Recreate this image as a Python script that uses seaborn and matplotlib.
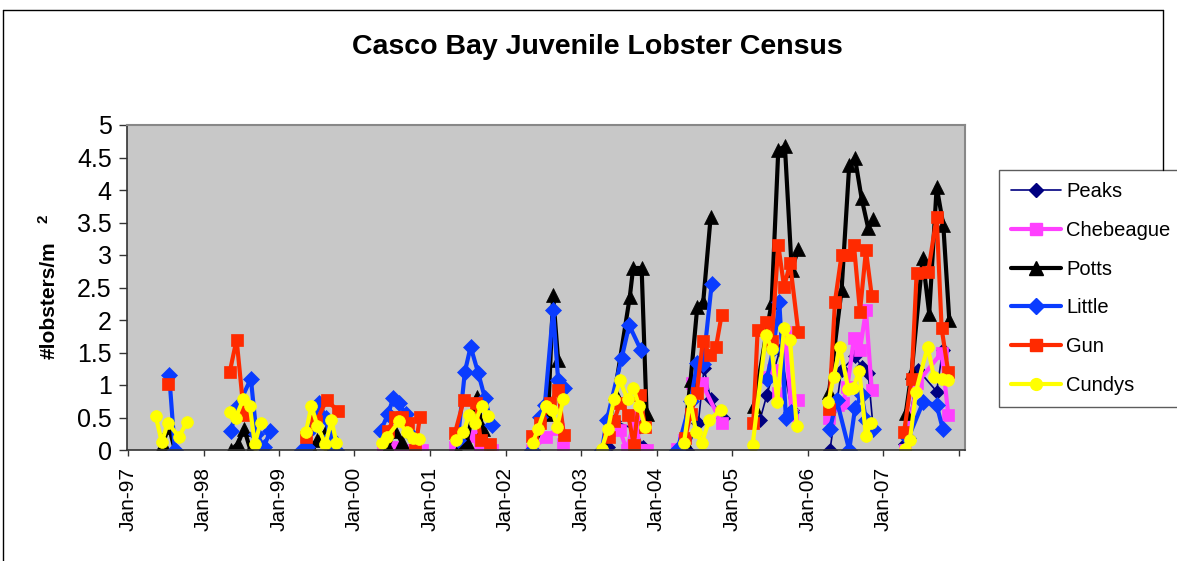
import pandas as pd
import matplotlib
matplotlib.use('Agg')
import matplotlib.pyplot as plt
import matplotlib.dates as mdates
from matplotlib.lines import Line2D
from matplotlib.ticker import MultipleLocator, FuncFormatter
import seaborn as sns

# lobster counts per m2 (one season per year)
peaks_dates = ['2003-05-12', '2003-06-09', '2003-09-23', '2003-10-27',
               '2004-04-20', '2004-05-26', '2004-07-21', '2004-08-18', '2004-09-19', '2004-11-19',
               '2005-05-15', '2005-06-18', '2005-08-20', '2005-10-16',
               '2006-04-19', '2006-06-14', '2006-08-18', '2006-09-19', '2006-10-21', '2006-11-14',
               '2007-04-17', '2007-06-20', '2007-09-17', '2007-10-16']
peaks_vals = [0.05, 0.45, 0.31, 0.05,
              0.03, 0.0, 0.41, 1.26, 0.78, 0.49,
              0.46, 0.85, 1.54, 0.62,
              0.0, 1.23, 1.44, 1.28, 1.18, 0.33,
              0.1, 1.23, 0.9, 1.54]

chebeague_dates = ['2000-05-16', '2000-07-23', '2000-09-06', '2000-11-21',
                   '2001-05-01', '2001-07-21', '2001-08-30', '2001-10-26',
                   '2002-05-08', '2002-07-15', '2002-09-12', '2002-10-07',
                   '2003-07-08', '2003-08-09', '2003-09-23', '2003-10-12', '2003-11-14',
                   '2004-04-11', '2004-05-13', '2004-06-19', '2004-08-07', '2004-11-11',
                   '2005-06-09', '2005-07-16', '2005-08-12', '2005-09-13', '2005-10-16', '2005-11-17',
                   '2006-04-15', '2006-05-29', '2006-06-19', '2006-07-12', '2006-08-13', '2006-09-11',
                   '2006-10-10', '2006-11-07',
                   '2007-04-17', '2007-06-15', '2007-10-11', '2007-11-12']
chebeague_vals = [0.0, 0.05, 0.0, 0.0,
                  0.05, 0.22, 0.0, 0.0,
                  0.0, 0.2, 0.33, 0.1,
                  0.31, 0.0, 0.51, 0.0, 0.0,
                  0.01, 0.15, 1.03, 1.03, 0.41,
                  1.13, 1.23, 0.87, 1.82, 0.54, 0.77,
                  0.49, 0.69, 0.72, 0.97, 1.72, 1.54,
                  2.15, 0.92,
                  0.0, 1.03, 1.5, 0.54]

potts_dates = ['1997-06-18', '1997-07-17', '1997-08-16',
               '1998-05-16', '1998-06-17', '1998-07-16', '1998-08-16',
               '1999-06-05', '1999-07-04', '1999-08-17', '1999-09-11',
               '2000-06-11', '2000-07-15', '2000-08-16',
               '2001-05-17', '2001-06-27', '2001-08-14', '2001-09-12', '2001-10-17',
               '2002-05-07', '2002-07-26', '2002-08-19', '2002-09-12',
               '2003-04-26', '2003-06-13', '2003-08-25', '2003-09-10', '2003-10-21', '2003-11-14',
               '2004-04-14', '2004-05-13', '2004-06-14', '2004-07-16', '2004-08-14', '2004-09-19',
               '2005-04-16', '2005-07-11', '2005-08-12', '2005-09-13', '2005-10-16', '2005-11-17',
               '2006-04-15', '2006-06-14', '2006-07-21', '2006-08-18', '2006-09-19', '2006-10-21',
               '2006-11-14',
               '2007-04-21', '2007-05-19', '2007-07-11', '2007-08-12', '2007-09-17', '2007-10-19',
               '2007-11-17']
potts_vals = [0.1, 0.36, 0.0,
              0.0, 0.1, 0.33, 0.0,
              0.05, 0.15, 0.3, 0.1,
              0.05, 0.3, 0.13,
              0.0, 0.13, 0.82, 0.32, 0.0,
              0.0, 0.56, 2.38, 1.38,
              0.0, 0.88, 2.36, 2.8, 2.8, 0.56,
              0.0, 0.15, 1.08, 2.2, 2.28, 3.59,
              0.67, 2.27, 4.62, 4.67, 2.77, 3.1,
              0.9, 2.46, 4.38, 4.49, 3.87, 3.41,
              3.56,
              0.57, 1.2, 2.95, 2.1, 4.05, 3.46,
              2.0]

little_dates = ['1997-07-19', '1997-08-15',
                '1998-05-13', '1998-06-17', '1998-08-18', '1998-09-14', '1998-10-20', '1998-11-21',
                '1999-04-20', '1999-05-15', '1999-06-13', '1999-07-14', '1999-08-15', '1999-09-04',
                '1999-10-06',
                '2000-05-08', '2000-06-11', '2000-07-07', '2000-08-03', '2000-09-06', '2000-10-10',
                '2001-05-15', '2001-06-18', '2001-07-16', '2001-08-22', '2001-09-23', '2001-10-26',
                '2002-05-08', '2002-06-16', '2002-07-10', '2002-08-19', '2002-09-12', '2002-10-10',
                '2003-04-12', '2003-05-06', '2003-07-16', '2003-08-22', '2003-10-17',
                '2004-04-11', '2004-06-14', '2004-07-16', '2004-08-14', '2004-09-24',
                '2005-06-18', '2005-07-19', '2005-08-17', '2005-09-18', '2005-10-11',
                '2006-04-19', '2006-05-21', '2006-07-21', '2006-08-18', '2006-09-19', '2006-10-10',
                '2006-11-11',
                '2007-05-02', '2007-07-14', '2007-09-17', '2007-10-16']
little_vals = [1.16, 0.0,
               0.3, 0.67, 1.1, 0.25, 0.05, 0.3,
               0.0, 0.05, 0.35, 0.72, 0.5, 0.2,
               0.0,
               0.3, 0.55, 0.8, 0.72, 0.55, 0.2,
               0.15, 1.2, 1.59, 1.18, 0.8, 0.38,
               0.0, 0.51, 0.7, 2.15, 1.08, 0.95,
               0.0, 0.46, 1.41, 1.92, 1.54,
               0.0, 0.75, 1.34, 1.33, 2.56,
               1.1, 1.56, 2.27, 0.49, 0.59,
               0.32, 0.77, 0.0, 0.64, 0.85, 0.46,
               0.33,
               0.18, 0.74, 0.69, 0.33]

gun_dates = ['1997-07-13',
             '1998-05-08', '1998-06-10', '1998-07-16',
             '1999-05-14', '1999-07-01', '1999-08-19', '1999-10-14',
             '2000-06-11', '2000-07-15', '2000-08-16', '2000-09-17', '2000-10-20', '2000-11-13',
             '2001-05-01', '2001-06-13', '2001-08-11', '2001-09-02', '2001-10-17',
             '2002-05-07', '2002-06-16', '2002-08-03', '2002-09-12', '2002-10-10',
             '2003-05-17', '2003-06-09', '2003-07-08', '2003-08-17', '2003-09-13', '2003-10-12',
             '2003-11-06',
             '2004-05-18', '2004-06-14', '2004-07-13', '2004-08-12', '2004-09-16', '2004-10-15',
             '2004-11-11',
             '2005-04-13', '2005-05-04', '2005-06-13', '2005-07-11', '2005-08-12', '2005-09-09',
             '2005-10-08', '2005-11-17',
             '2006-04-15', '2006-05-13', '2006-06-14', '2006-07-16', '2006-08-13', '2006-09-11',
             '2006-10-10', '2006-11-07',
             '2007-04-12', '2007-05-19', '2007-06-12', '2007-08-07', '2007-09-17', '2007-10-11',
             '2007-11-12']
gun_vals = [1.01,
            1.2, 1.7, 0.54,
            0.2, 0.44, 0.77, 0.6,
            0.3, 0.51, 0.51, 0.41, 0.0, 0.51,
            0.26, 0.77, 0.72, 0.16, 0.1,
            0.21, 0.41, 0.72, 0.92, 0.23,
            0.2, 0.44, 0.72, 0.54, 0.08, 0.85,
            0.36,
            0.18, 0.56, 0.87, 1.67, 1.46, 1.59,
            2.08,
            0.42, 1.84, 1.97, 1.67, 3.15, 2.51,
            2.87, 1.81,
            0.63, 2.28, 3.0, 3.0, 3.15, 2.13,
            3.07, 2.37,
            0.27, 1.09, 2.72, 2.74, 3.59, 1.87,
            1.2]

cundys_dates = ['1997-05-15', '1997-06-13', '1997-07-13', '1997-09-04', '1997-10-12',
                '1998-05-08', '1998-06-06', '1998-07-12', '1998-08-13', '1998-09-06', '1998-10-04',
                '1999-05-11', '1999-06-07', '1999-07-06', '1999-08-14', '1999-09-12', '1999-10-06',
                '2000-05-11', '2000-06-07', '2000-08-04', '2000-09-09', '2000-10-10', '2000-11-09',
                '2001-05-06', '2001-06-10', '2001-07-09', '2001-08-06', '2001-09-07', '2001-10-09',
                '2002-05-12', '2002-06-08', '2002-07-15', '2002-08-12', '2002-09-08', '2002-10-07',
                '2003-04-10', '2003-05-12', '2003-06-09', '2003-07-08', '2003-08-14', '2003-09-10',
                '2003-10-09', '2003-11-06',
                '2004-05-13', '2004-06-11', '2004-07-10', '2004-08-07', '2004-09-12', '2004-11-07',
                '2005-04-10', '2005-06-13', '2005-07-11', '2005-08-07', '2005-09-09', '2005-10-08',
                '2005-11-09',
                '2006-04-11', '2006-05-08', '2006-06-06', '2006-07-16', '2006-08-10', '2006-09-08',
                '2006-10-10', '2006-11-02',
                '2007-04-16', '2007-05-11', '2007-06-09', '2007-08-04', '2007-09-04', '2007-10-11',
                '2007-11-12']
cundys_vals = [0.52, 0.12, 0.42, 0.2, 0.43,
               0.59, 0.5, 0.78, 0.68, 0.09, 0.42,
               0.27, 0.68, 0.37, 0.09, 0.46, 0.11,
               0.11, 0.2, 0.44, 0.27, 0.18, 0.17,
               0.15, 0.27, 0.54, 0.42, 0.68, 0.52,
               0.11, 0.33, 0.68, 0.62, 0.36, 0.78,
               0.01, 0.33, 0.78, 1.07, 0.78, 0.96,
               0.68, 0.36,
               0.11, 0.77, 0.28, 0.11, 0.46, 0.62,
               0.08, 1.77, 1.56, 0.74, 1.87, 1.69,
               0.37,
               0.74, 1.13, 1.59, 0.94, 0.96, 1.22,
               0.21, 0.42,
               0.01, 0.16, 0.9, 1.59, 1.13, 1.09,
               1.08]

sites = ['Peaks', 'Chebeague', 'Potts', 'Little', 'Gun', 'Cundys']
colors = {'Peaks': '#000080', 'Chebeague': '#ff40ff', 'Potts': '#000000',
          'Little': '#0a3cff', 'Gun': '#ff2a00', 'Cundys': '#ffff00'}
markers = {'Peaks': 'D', 'Chebeague': 's', 'Potts': '^', 'Little': 'D', 'Gun': 's', 'Cundys': 'o'}
msizes = {'Peaks': 7.5, 'Chebeague': 8.5, 'Potts': 9.5, 'Little': 8, 'Gun': 8.5, 'Cundys': 8.5}
widths = {'Peaks': 1.2, 'Chebeague': 3, 'Potts': 3, 'Little': 3, 'Gun': 3, 'Cundys': 3}

series = {'Peaks': (peaks_dates, peaks_vals), 'Chebeague': (chebeague_dates, chebeague_vals),
          'Potts': (potts_dates, potts_vals), 'Little': (little_dates, little_vals),
          'Gun': (gun_dates, gun_vals), 'Cundys': (cundys_dates, cundys_vals)}

frames = []
for s in sites:
    d, v = series[s]
    frames.append(pd.DataFrame({'site': s, 'date': pd.to_datetime(d), 'value': v}))
df = pd.concat(frames, ignore_index=True)
df['season'] = df['date'].dt.year

sns.set_theme(style='white')
plt.rcParams['font.family'] = ['Liberation Sans', 'DejaVu Sans']
plt.rcParams['text.color'] = 'black'
plt.rcParams['xtick.color'] = 'black'
plt.rcParams['ytick.color'] = 'black'

fig = plt.figure(figsize=(11.77, 5.61), dpi=100)
ax = fig.add_axes([127 / 1177, 111 / 561, 838 / 1177, 325 / 561])
ax.set_facecolor('#c8c8c8')

for s in sites:
    sub = df[df['site'] == s]
    sns.lineplot(data=sub, x='date', y='value', units='season', estimator=None, ax=ax,
                 color=colors[s], lw=widths[s], marker=markers[s], markersize=msizes[s],
                 markeredgecolor=colors[s], markeredgewidth=0.5, legend=False)

ax.set_xlim(pd.Timestamp('1996-12-27'), pd.Timestamp('2008-02-01'))
ax.set_ylim(0, 5)
ax.set_xlabel('')
ax.set_ylabel('')
ax.yaxis.set_major_locator(MultipleLocator(0.5))
ax.yaxis.set_major_formatter(FuncFormatter(lambda v, p: '%g' % v))
ax.xaxis.set_major_locator(mdates.YearLocator())


def year_label(x, pos):
    d = mdates.num2date(x)
    return d.strftime('%b-%y') if d.year < 2008 else ''


ax.xaxis.set_major_formatter(FuncFormatter(year_label))
ax.tick_params(axis='y', left=True, direction='out', length=6, width=1, color='#333333',
               labelcolor='black', labelsize=18, pad=5)
ax.tick_params(axis='x', bottom=True, direction='out', length=4, width=1, color='#333333',
               labelcolor='black', labelsize=15, labelrotation=90, pad=8)
for side in ['top', 'right']:
    ax.spines[side].set_color('#888888')
    ax.spines[side].set_linewidth(1.5)
for side in ['left', 'bottom']:
    ax.spines[side].set_color('#333333')
    ax.spines[side].set_linewidth(1.2)

fig.text(597 / 1177, 1 - 47 / 561, 'Casco Bay Juvenile Lobster Census', ha='center', va='center',
         fontsize=20.5, fontweight='bold', color='black')
fig.text(49 / 1177, 1 - 300 / 561, '#lobsters/m', rotation=90, ha='center', va='center',
         fontsize=15, fontweight='bold', color='black')
fig.text(43 / 1177, 1 - 219 / 561, '2', rotation=90, ha='center', va='center',
         fontsize=11, fontweight='bold', color='black')

handles = [Line2D([], [], color=colors[s], lw=widths[s], marker=markers[s], markersize=msizes[s],
                  markeredgecolor=colors[s]) for s in sites]
leg = ax.legend(handles, sites, loc='upper left', bbox_to_anchor=(999 / 1177, 1 - 170 / 561),
                bbox_transform=fig.transFigure, borderaxespad=0, fontsize=14.5, frameon=True,
                fancybox=False, handlelength=2.5, handletextpad=0.25, labelspacing=0.98,
                borderpad=0.6, labelcolor='black')
leg.get_frame().set_edgecolor('#333333')
leg.get_frame().set_linewidth(1)

# outer chart frame
fig.add_artist(Line2D([3 / 1177, 1163 / 1177], [1 - 10 / 561, 1 - 10 / 561],
                      transform=fig.transFigure, color='black', lw=1))
fig.add_artist(Line2D([3 / 1177, 3 / 1177], [1 - 10 / 561, 0], transform=fig.transFigure,
                      color='black', lw=1))
fig.add_artist(Line2D([1163 / 1177, 1163 / 1177], [1 - 10 / 561, 1 - 170 / 561],
                      transform=fig.transFigure, color='black', lw=1))

fig.savefig('out.png', dpi=100)
